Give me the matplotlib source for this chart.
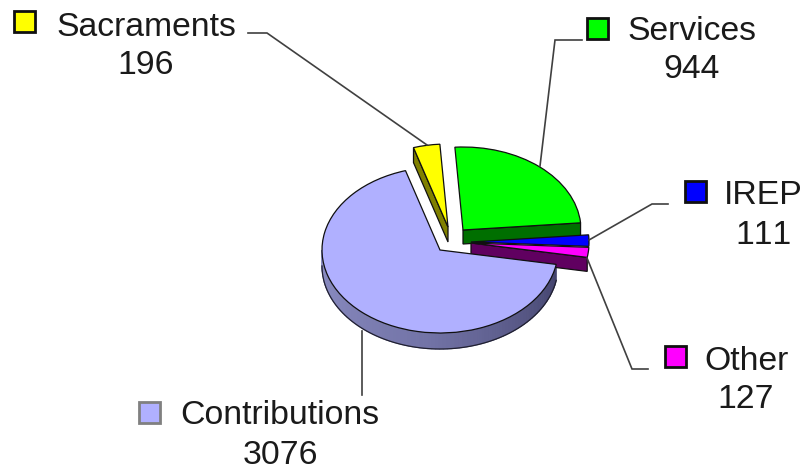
import numpy as np
import matplotlib
matplotlib.use('Agg')
import matplotlib.pyplot as plt
from matplotlib.patches import Wedge, Polygon, Rectangle
from matplotlib.transforms import Affine2D
from matplotlib.colors import LinearSegmentedColormap

# Data
labels = ['Sacraments', 'Services', 'IREP', 'Other', 'Contributions']
values = [196, 944, 111, 127, 3076]

# Colours
top_colors = ['#ffff00', '#00ff00', '#0000ff', '#ff00ff', '#b0b0ff']
wall_colors = ['#808000', '#006f00', '#000080', '#600060', '#7878b0']
line_color = '#404040'

# Pie geometry, pixels
rx, ry = 118, 83
start_angle = 107
apex = [(448, 227), (463, 230), (471, 242), (471, 243), (440, 250)]
depth = [15, 14, 12, 14, 16]

# The 3D view in the original squeezes some slices, this maps flat angle to seen angle
warp_in = [-253, -4.4, 5.9, 14.9, 91.2, 107]
warp_out = [-253, -10, -3, 5, 94, 107]

# Label layout
text_x = [146, 692, 763, 746, 280]
name_y = [27, 31, 195, 361, 416]
value_y = [65, 70, 235, 400, 455]
key_x = [14, 587, 685, 665, 139]
key_y = [11, 18, 181, 346, 402]
key_size = 21
leaders = [
    [(248, 33), (267, 33), (427, 145)],
    [(582, 40), (555, 40), (540, 166)],
    [(668, 204), (652, 204), (589, 240)],
    [(648, 369), (632, 369), (587, 258)],
    [(362, 395), (362, 331)],
]

plt.rcParams['font.family'] = ['Liberation Sans', 'DejaVu Sans']
plt.rcParams['text.kerning_factor'] = 6

fig = plt.figure(figsize=(8.05, 4.70), dpi=100)
ax = fig.add_axes([0, 0, 1, 1])
ax.set_xlim(0, 805)
ax.set_ylim(470, 0)
ax.axis('off')


def rim_point(center, angle, drop=0):
    a = np.radians(angle)
    return (center[0] + rx * np.cos(a), center[1] - ry * np.sin(a) + drop)


def top_face(i, a1, a2):
    tr = Affine2D().scale(rx, -ry).translate(*apex[i]) + ax.transData
    ax.add_patch(Wedge((0, 0), 1, a1, a2, transform=tr, facecolor=top_colors[i],
                       edgecolor='#101010', linewidth=0.9, zorder=3 + i * 0.1))


def wall(i, angle):
    c = apex[i]
    d = depth[i]
    pts = [c, rim_point(c, angle), rim_point(c, angle, d), (c[0], c[1] + d)]
    ax.add_patch(Polygon(pts, facecolor=wall_colors[i], edgecolor='#101010',
                         linewidth=0.9, zorder=3 + i * 0.1))


# Slice edges come from the values, clockwise from the start angle
flat = start_angle - np.cumsum([0] + values) / sum(values) * 360
seen = np.interp(flat, warp_in, warp_out)

# Contributions goes first, with its shaded rim
rim_cmap = LinearSegmentedColormap.from_list('rim', ['#8c8ec4', '#7273a6', '#44446e'])
con = len(values) - 1
rim_end = seen[4] + 360
steps = np.linspace(180, rim_end, 90)
for k in range(len(steps) - 1):
    p1 = rim_point(apex[con], steps[k])
    p2 = rim_point(apex[con], steps[k + 1])
    p3 = rim_point(apex[con], steps[k + 1], depth[con])
    p4 = rim_point(apex[con], steps[k], depth[con])
    shade = rim_cmap(k / (len(steps) - 2))
    ax.add_patch(Polygon([p1, p2, p3, p4], facecolor=shade, edgecolor=shade,
                         linewidth=0.8, zorder=1))
bottom = np.array([rim_point(apex[con], s, depth[con]) for s in steps])
ax.plot(bottom[:, 0], bottom[:, 1], color='#202030', lw=0.9, zorder=2)
top_face(con, seen[5] + 360 if seen[5] < 0 else seen[5], rim_end)

# Sacraments and Services, the cut side faces the viewer
wall(0, seen[0])
top_face(0, seen[1], seen[0])
wall(1, seen[2])
top_face(1, seen[2], seen[1])

# The two thin slices on the right
wall(3, seen[4])
top_face(2, seen[3], seen[2])
top_face(3, seen[4], seen[3])

# Leaders, legend keys and text
for pts in leaders:
    xs = [p[0] for p in pts]
    ys = [p[1] for p in pts]
    ax.plot(xs, ys, color=line_color, lw=1.2, zorder=5, solid_joinstyle='miter')

for i in range(len(labels)):
    key_edge = '#808080' if i == con else '#101010'
    ax.add_patch(Rectangle((key_x[i], key_y[i]), key_size, key_size, facecolor=top_colors[i],
                           edgecolor=key_edge, linewidth=2, zorder=5))
    ax.text(text_x[i], name_y[i], labels[i], fontsize=24.3, ha='center', va='center', color='#1a1a1a')
    ax.text(text_x[i], value_y[i], str(values[i]), fontsize=24.3, ha='center', va='center', color='#1a1a1a')

fig.savefig('out.png', dpi=100)
